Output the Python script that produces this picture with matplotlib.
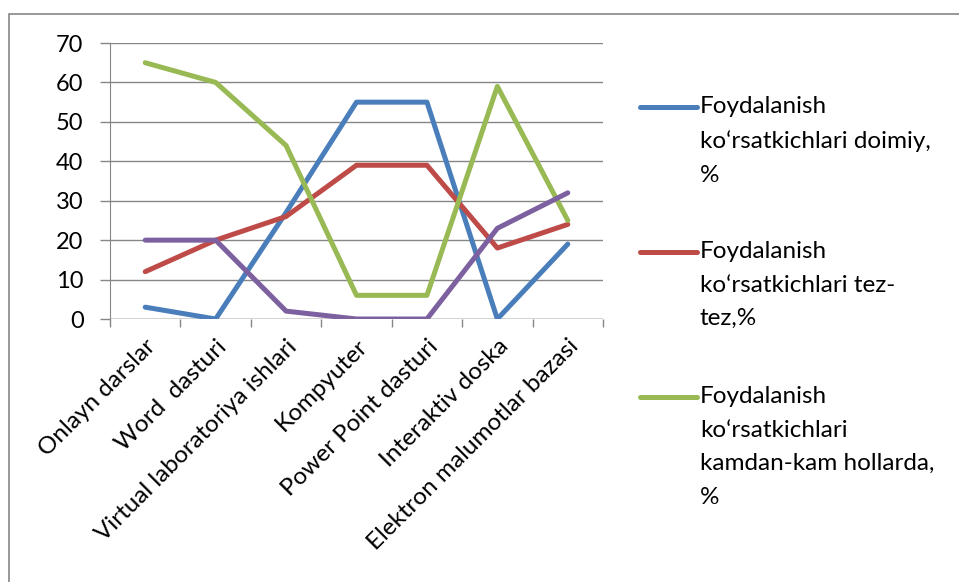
import numpy as np
import matplotlib.pyplot as plt
from matplotlib.lines import Line2D
from matplotlib.patches import Rectangle

plt.rcParams['font.family'] = ['Lato', 'DejaVu Sans']

categories = ['Onlayn darslar', 'Word  dasturi', 'Virtual laboratoriya ishlari',
              'Kompyuter', 'Power Point dasturi', 'Interaktiv doska',
              'Elektron malumotlar bazasi']
doimiy = [3, 0, 27, 55, 55, 0, 19]
tez_tez = [12, 20, 26, 39, 39, 18, 24]
kamdan_kam = [65, 60, 44, 6, 6, 59, 25]
boshqa = [20, 20, 2, 0, 0, 23, 32]

series = [
    (doimiy, '#4A7EBB', 'Foydalanish\nko‘rsatkichlari doimiy,\n%'),
    (tez_tez, '#BE4B48', 'Foydalanish\nko‘rsatkichlari tez-\ntez,%'),
    (kamdan_kam, '#98B954', 'Foydalanish\nko‘rsatkichlari\nkamdan-kam hollarda,\n%'),
    (boshqa, '#7D60A0', None),
]

W, H = 959, 582
fig = plt.figure(figsize=(W / 100, H / 100), dpi=100)
ax = fig.add_axes([110 / W, 1 - 319 / H, (603 - 110) / W, (319 - 43) / H])

# outer chart frame (runs off the right and bottom edges)
fig.patches.append(Rectangle((9 / W, -0.1), 1.2, 1 - 14 / H + 0.1,
                             transform=fig.transFigure, fill=False,
                             edgecolor='#868686', linewidth=1.2))

x = np.arange(len(categories))
for vals, color, label in series:
    ax.plot(x, vals, color=color, linewidth=3.6, solid_capstyle='round',
            solid_joinstyle='round', zorder=3)

ax.set_xlim(-0.5, len(categories) - 0.5)
ax.set_ylim(0, 70)
ax.set_yticks(range(0, 71, 10))
ax.yaxis.grid(True, color='#868686', linewidth=1)
ax.set_axisbelow(True)
for s in ['top', 'right', 'bottom']:
    ax.spines[s].set_visible(False)
ax.spines['left'].set_color('#868686')
ax.axhline(0, color='#868686', linewidth=1, zorder=1)

ax.set_xticks(np.arange(len(categories) + 1) - 0.5, minor=False)
ax.set_xticklabels([])
ax.tick_params(axis='x', length=6, color='#868686', width=1)
ax.tick_params(axis='y', length=7, color='#868686', width=1, labelsize=17, pad=12)
ax.set_xticks(x, minor=True)
ax.set_xticklabels(categories, minor=True, rotation=45, ha='right',
                   rotation_mode='anchor', fontsize=17.5)
ax.tick_params(axis='x', which='minor', length=0, pad=12)

# legend (first three series)
ly = 107
for vals, color, label in series:
    if label is None:
        continue
    fig.add_artist(Line2D([640 / W, 697 / W], [1 - ly / H, 1 - ly / H],
                          color=color, linewidth=3.6, solid_capstyle='round'))
    fig.text(700 / W, 1 - (ly - 11) / H, label, fontsize=17.5, va='top',
             ha='left', linespacing=1.74)
    ly += 145

fig.savefig('out.png', dpi=100)
